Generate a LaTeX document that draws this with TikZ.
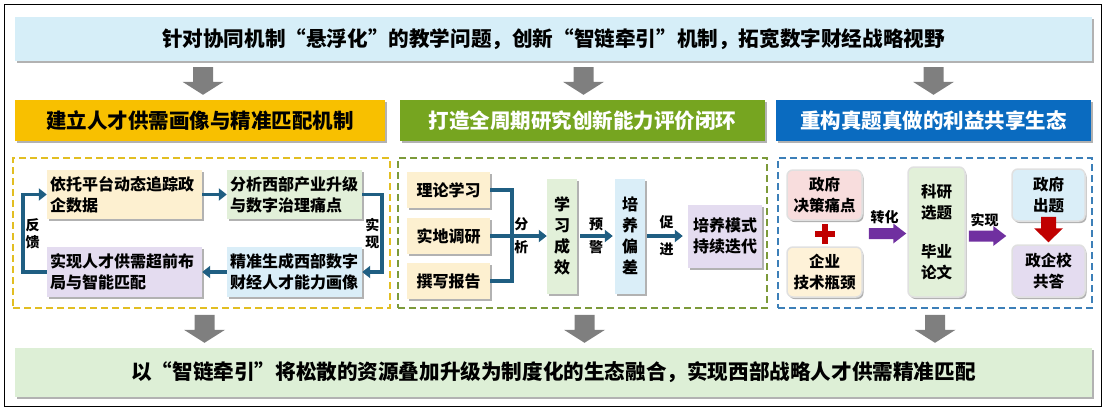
\documentclass[tikz,border=0pt]{standalone}
\usepackage{fontspec}
\setmainfont{Noto Sans CJK SC}
\usetikzlibrary{arrows.meta,calc,shadows}

\definecolor{topblue}{HTML}{D6EEF8}
\definecolor{headyellow}{HTML}{F8C000}
\definecolor{headgreen}{HTML}{76A520}
\definecolor{headblue}{HTML}{0A6BC0}
\definecolor{dashyellow}{HTML}{E2BE22}
\definecolor{dashgreen}{HTML}{7C9A3A}
\definecolor{dashblue}{HTML}{3C7FB8}
\definecolor{boxorange}{HTML}{FDF0D0}
\definecolor{boxgreen}{HTML}{E2F0D9}
\definecolor{boxpurple}{HTML}{E4DCF0}
\definecolor{boxblue}{HTML}{DAEEF8}
\definecolor{boxpink}{HTML}{F8DDDD}
\definecolor{boxcream}{HTML}{FEF2D8}
\definecolor{bottomgreen}{HTML}{DDEFD6}
\definecolor{flowblue}{HTML}{1F5E82}
\definecolor{arrowgray}{HTML}{7F7F7F}
\definecolor{arrowpurple}{HTML}{7030A0}
\definecolor{plusred}{HTML}{C00000}

\tikzset{
	boxshadow/.style={drop shadow={shadow xshift=1.5pt,shadow yshift=-2pt,fill=black,opacity=0.3}},
	bar/.style={boxshadow, minimum width=1077pt, inner sep=0pt, font=\fontsize{20.6}{24}\selectfont\bfseries},
	head/.style={boxshadow, minimum height=41pt, inner sep=0pt, font=\fontsize{20.5}{24}\selectfont\bfseries},
	panel/.style={dash pattern=on 7pt off 4pt, line width=1.5pt, minimum height=150pt, inner sep=0pt},
	card/.style={boxshadow, inner sep=3pt, font=\fontsize{16}{21}\selectfont\bfseries},
	rcard/.style={card, rounded corners=6pt, draw=black!12, line width=1.5pt, align=center, font=\fontsize{15.5}{21}\selectfont\bfseries},
	flow/.style={draw=flowblue, line width=3.5pt, -{Triangle[length=8pt,width=12pt]}},
	link/.style={draw=flowblue, line width=3.5pt},
	lab/.style={font=\fontsize{14}{17}\selectfont\bfseries, inner sep=1pt, align=center}
}

\newcommand{\fatdown}[6]{\fill[#1] ($(#2)+(-#4,0)$) -- ($(#2)+(#4,0)$) -- ($(#3)+(#4,-#6)$) -- ($(#3)+(#5,-#6)$) -- (#3) -- ($(#3)+(-#5,-#6)$) -- ($(#3)+(-#4,-#6)$) -- cycle;}
\newcommand{\fatright}[6]{\fill[#1] ($(#2)+(0,-#4)$) -- ($(#3)+(-#6,-#4)$) -- ($(#3)+(-#6,-#5)$) -- (#3) -- ($(#3)+(-#6,#5)$) -- ($(#3)+(-#6,#4)$) -- ($(#2)+(0,#4)$) -- cycle;}

\begin{document}
\begin{tikzpicture}[x=1pt,y=-1pt]
	\useasboundingbox (0,0) rectangle (1106,410);
	\draw[line width=1pt] (4,4) rectangle (1101,406);

	\node[bar, fill=topblue, minimum height=44pt] (top) at (553.5,39) {针对协同机制“悬浮化”的教学问题，创新“智链牵引”机制，拓宽数字财经战略视野};
	\node[head, fill=headyellow, minimum width=370pt] (h1) at (200,120.5) {建立人才供需画像与精准匹配机制};
	\node[head, fill=headgreen, text=white, minimum width=365pt] (h2) at (582.5,120.5) {打造全周期研究创新能力评价闭环};
	\node[head, fill=headblue, text=white, minimum width=315pt] (h3) at (933.5,120.5) {重构真题真做的利益共享生态};

	\node[panel, draw=dashyellow, minimum width=377pt] (p1) at (201.5,233) {};
	\node[panel, draw=dashgreen, minimum width=369pt] (p2) at (582.5,233) {};
	\node[panel, draw=dashblue, minimum width=314pt] (p3) at (935,233) {};

	\node[card, fill=boxorange, text width=149pt, minimum height=49pt, align=left] (b1) at (124.5,194.5) {依托平台动态追踪政\\企数据};
	\node[card, fill=boxgreen, text width=129pt, minimum height=49pt, align=left] (b2) at (294.5,194.5) {分析西部产业升级\\与数字治理痛点};
	\node[card, fill=boxpurple, text width=149pt, minimum height=50pt, align=left] (b3) at (124.5,272) {实现人才供需超前布\\局与智能匹配};
	\node[card, fill=boxblue, text width=129pt, minimum height=50pt, align=left] (b4) at (294.5,272) {精准生成西部数字\\财经人才能力画像};

	\draw[flow] (b1) -- (b2);
	\draw[flow] (b2.east) -- ++(20,0) |- (b4.east) node[pos=0.25, left, lab] (lsx1) {实\\现};
	\draw[flow] (b4) -- (b3);
	\draw[flow] (b3.west) -- ++(-24,0) |- (b1.west) node[pos=0.25, right, lab] (lfk) {反\\馈};

	\node[card, fill=boxorange, minimum width=83pt, minimum height=36pt] (l1) at (448.5,190) {理论学习};
	\node[card, fill=boxorange, minimum width=83pt, minimum height=36pt] (l2) at (448.5,236) {实地调研};
	\node[card, fill=boxorange, minimum width=83pt, minimum height=36pt] (l3) at (448.5,281) {撰写报告};
	\node[card, fill=boxgreen, minimum width=30pt, minimum height=115pt, align=center] (xx) at (562,236) {学\\习\\成\\效};
	\node[card, fill=boxblue, minimum width=30pt, minimum height=115pt, align=center] (pc) at (630,236) {培\\养\\偏\\差};
	\node[card, fill=boxpurple, minimum width=74pt, minimum height=63pt, align=center] (dd) at (725,236) {培养模式\\持续迭代};

	\coordinate (jn) at ($(l2.east)+(22,0)$);
	\draw[link] (l1.east) -- (l1.east -| jn) -- (l3.east -| jn) -- (l3.east);
	\draw[flow] (l2) -- (xx) node[pos=0.55, above=2pt, lab] (lfx1) {分} node[pos=0.55, below=2pt, lab] (lfx2) {析};
	\draw[flow, shorten <=3pt, shorten >=2pt] (xx) -- (pc) node[midway, above=2pt, lab] (lyj1) {预} node[midway, below=2pt, lab] (lyj2) {警};
	\draw[flow, shorten <=2pt, shorten >=5pt] (pc) -- (dd) node[midway, above=4pt, lab] (lcj1) {促} node[midway, below=4pt, lab] (lcj2) {进};

	\node[rcard, fill=boxpink, minimum width=75pt, minimum height=50pt] (zf) at (824.5,195) {政府\\决策痛点};
	\node[rcard, fill=boxcream, minimum width=75pt, minimum height=50pt] (qy) at (824.5,272) {企业\\技术瓶颈};
	\node[rcard, fill=boxgreen, minimum width=57pt, minimum height=130pt] (ky) at (936.5,232) {科研\\选题\\[18pt]毕业\\论文};
	\node[rcard, fill=boxblue, minimum width=73pt, minimum height=52pt] (ct) at (1048.5,195) {政府\\出题};
	\node[rcard, fill=boxpurple, minimum width=73pt, minimum height=52pt] (gd) at (1048.5,271) {政企校\\共答};

	\coordinate (pl) at ($(zf.south)!0.5!(qy.north)$);
	\fill[plusred] ($(pl)+(-10,-3)$) rectangle ($(pl)+(10,3)$);
	\fill[plusred] ($(pl)+(-3,-10)$) rectangle ($(pl)+(3,10)$);

	\coordinate (r1s) at ($(zf.east)!0.5!(qy.east)+(6,0)$);
	\coordinate (r1e) at ($(r1s -| ky.west)+(-1,0)$);
	\fatright{arrowpurple}{r1s}{r1e}{5.5}{10}{13}
	\node[lab] (lzh) at ($(r1s)!0.5!(r1e)+(-3,-16)$) {转化};
	\coordinate (r2e) at ($(ct.west)!0.5!(gd.west)+(-5,3)$);
	\coordinate (r2s) at ($(r2e -| ky.east)+(3,0)$);
	\fatright{arrowpurple}{r2s}{r2e}{5.5}{10}{13}
	\node[lab] (lsx2) at ($(r2s)!0.5!(r2e)+(-3,-16)$) {实现};
	\coordinate (rd1) at ($(ct.south)+(0,-5)$);
	\coordinate (rd2) at ($(gd.north)+(0,-2)$);
	\fatdown{plusred}{rd1}{rd2}{7.5}{14.5}{14}

	\node[bar, fill=bottomgreen, minimum height=49pt] (bot) at (553.5,372.5) {以“智链牵引”将松散的资源叠加升级为制度化的生态融合，实现西部战略人才供需精准匹配};

	\coordinate (ga1) at ($(top.south -| h1.north)+(3,6)$);
	\coordinate (gb1) at ($(h1.north)+(3,-5)$);
	\coordinate (ga2) at ($(top.south -| h2.north)+(1,6)$);
	\coordinate (gb2) at ($(h2.north)+(1,-5)$);
	\coordinate (ga3) at ($(top.south -| h3.north)+(0,6)$);
	\coordinate (gb3) at ($(h3.north)+(0,-5)$);
	\fatdown{arrowgray}{ga1}{gb1}{10}{20.5}{13}
	\fatdown{arrowgray}{ga2}{gb2}{10}{20.5}{13}
	\fatdown{arrowgray}{ga3}{gb3}{10}{20.5}{13}

	\coordinate (gc1) at ($(p1.south)+(3,6)$);
	\coordinate (gd1) at ($(bot.north -| p1.south)+(3,-5)$);
	\coordinate (gc2) at ($(p2.south)+(2,6)$);
	\coordinate (gd2) at ($(bot.north -| p2.south)+(2,-5)$);
	\coordinate (gc3) at ($(p3.south)+(0,6)$);
	\coordinate (gd3) at ($(bot.north -| p3.south)+(0,-5)$);
	\fatdown{arrowgray}{gc1}{gd1}{10}{20.5}{13}
	\fatdown{arrowgray}{gc2}{gd2}{10}{20.5}{13}
	\fatdown{arrowgray}{gc3}{gd3}{10}{20.5}{13}
\end{tikzpicture}
\end{document}
